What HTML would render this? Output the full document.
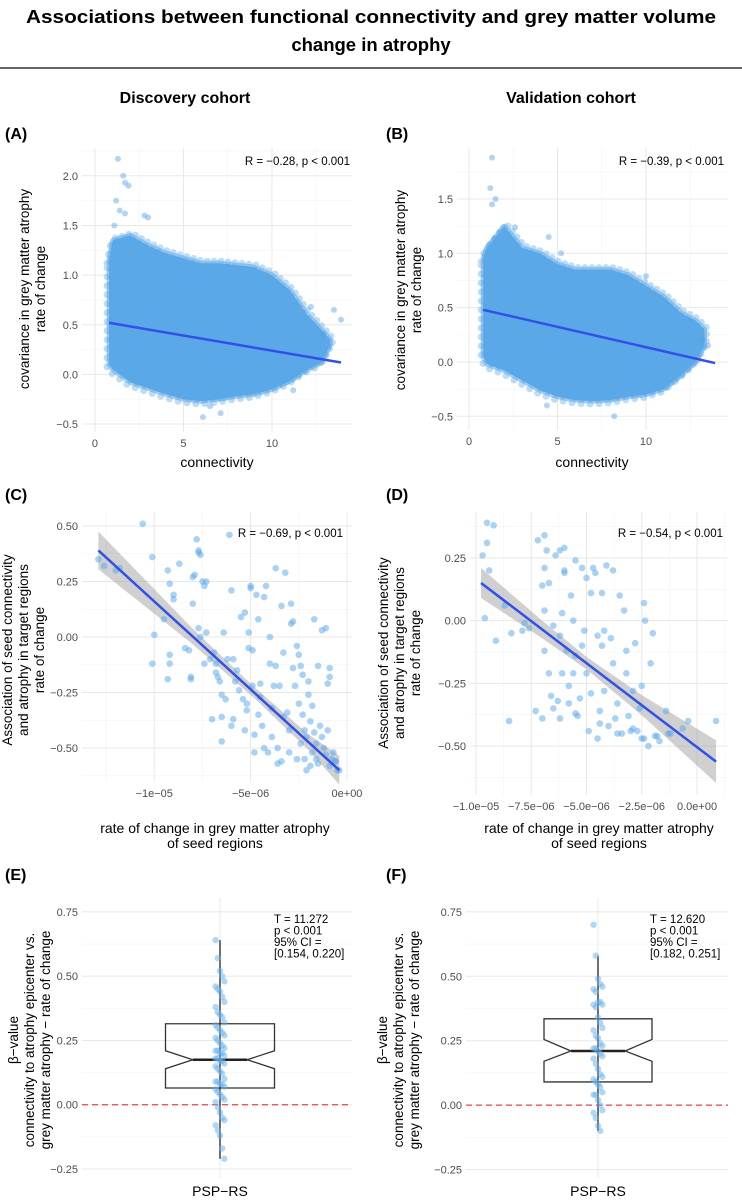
<!DOCTYPE html>
<html><head><meta charset="utf-8"><style>
html,body{margin:0;padding:0;background:#fff;}
svg{display:block;font-family:"Liberation Sans",sans-serif;}
</style></head><body>
<svg id="fig" width="742" height="1200" viewBox="0 0 742 1200" xmlns="http://www.w3.org/2000/svg">
<text x="371" y="23" text-anchor="middle" font-size="18.5" font-weight="bold" textLength="690" lengthAdjust="spacingAndGlyphs">Associations between functional connectivity and grey matter volume</text>
<text x="371" y="51" text-anchor="middle" font-size="18.5" font-weight="bold">change in atrophy</text>
<line x1="0" y1="68" x2="742" y2="68" stroke="#333" stroke-width="1.5"/>
<text x="185" y="103" text-anchor="middle" font-size="16" font-weight="bold">Discovery cohort</text>
<text x="571" y="103" text-anchor="middle" font-size="16" font-weight="bold">Validation cohort</text>
</svg>
<script>
// ---------- DATA ----------
const aBinX = [0.8, 1, 2, 3, 4, 5, 6, 7, 8, 9, 10, 11, 12, 12.8, 13.3];
const aUpper = [1.15, 1.35, 1.4, 1.3, 1.22, 1.17, 1.12, 1.12, 1.1, 1.08, 1.0, 0.85, 0.6, 0.45, 0.35];
const aLower = [0.1, 0.05, -0.08, -0.14, -0.2, -0.25, -0.27, -0.25, -0.22, -0.2, -0.15, -0.07, 0.05, 0.12, 0.3];
const aOutX = [1.3, 1.6, 1.7, 1.9, 1.2, 1.4, 1.7, 2.8, 3.0, 1.1, 6.1, 7.1, 6.5, 13.5, 13.9, 12.9, 11.2, 12.2];
const aOutY = [2.17, 2.0, 1.93, 1.9, 1.75, 1.65, 1.62, 1.6, 1.58, 1.5, -0.43, -0.39, -0.32, 0.65, 0.55, 0.4, -0.16, 0.68];
const aFitX = [0.8, 13.9];
const aFitY = [0.52, 0.12];
const bBinX = [0.8, 1, 2, 3, 4, 5, 6, 7, 8, 9, 10, 11, 12, 12.8, 13.3];
const bUpper = [0.95, 1.05, 1.25, 1.05, 1.0, 0.9, 0.85, 0.85, 0.85, 0.8, 0.7, 0.6, 0.45, 0.38, 0.3];
const bLower = [0.05, -0.02, -0.08, -0.17, -0.26, -0.32, -0.35, -0.36, -0.35, -0.32, -0.3, -0.25, -0.12, 0.0, 0.15];
const bOutX = [1.3, 1.2, 1.5, 1.3, 4.5, 5.2, 8.2, 4.4, 13.5, 13.2, 12.5, 10.0, 2.6];
const bOutY = [1.88, 1.6, 1.5, 1.45, 1.15, 1.0, -0.5, -0.4, 0.15, 0.2, 0.38, 0.79, 1.24];
const bFitX = [0.8, 13.9];
const bFitY = [0.48, -0.01];
const cX = [-12.9,-12.6,-12.0,-11.8,-10.6,-10.1,-10.0,-10.1,-9.5,-9.3,-9.2,-9.0,-9.0,-9.2,-9.2,-9.3,-8.7,-8.4,-8.2,-8.1,-8.1,-8.0,-7.9,-8.0,-7.8,-7.7,-7.7,-7.6,-7.5,-7.3,-7.4,-7.6,-7.7,-7.3,-7.4,-7.1,-7.0,-6.9,-6.8,-6.7,-6.6,-6.5,-6.5,-6.4,-6.5,-6.2,-6.1,-6.0,-6.0,-5.9,-5.8,-5.6,-5.5,-5.3,-5.4,-5.2,-5.2,-5.0,-5.0,-5.1,-5.1,-4.9,-4.9,-4.8,-4.7,-4.6,-4.5,-4.5,-4.3,-4.2,-4.3,-4.0,-4.0,-3.9,-3.8,-3.7,-3.7,-3.6,-3.5,-3.4,-3.3,-3.3,-3.2,-3.1,-3.0,-2.9,-2.9,-2.8,-2.8,-2.7,-2.6,-2.5,-2.5,-2.4,-2.3,-2.3,-2.2,-2.1,-2.2,-2.0,-2.0,-1.9,-1.9,-1.8,-1.7,-1.7,-1.6,-1.6,-1.5,-1.4,-1.3,-1.2,-1.1,-1.1,-1.0,-1.0,-0.9,-0.9,-0.8,-0.7,-0.6,-0.5,-0.4,-1.3,-0.9,-4.4,-3.9,-4.1,-3.4,-2.6,-5.7,-6.3,-4.6,-3.0,-2.4,-1.8,-5.3,-6.8,-3.6,-2.1,-1.5,-0.6,-4.8,-5.9];
const cY = [0.35,0.32,0.30,0.31,0.51,0.36,0.01,-0.12,0.08,0.30,0.24,0.19,0.17,-0.08,-0.12,-0.19,0.33,-0.05,-0.06,-0.18,-0.19,0.27,0.28,0.15,0.44,0.39,0.38,0.37,0.25,0.25,0.23,0.00,0.04,0.02,-0.12,-0.10,-0.37,-0.07,-0.16,-0.18,-0.20,-0.36,-0.47,0.02,-0.26,-0.10,0.46,0.21,-0.40,-0.37,-0.20,-0.24,0.09,0.11,-0.28,-0.30,-0.33,0.23,0.22,0.02,-0.05,-0.06,-0.22,-0.44,0.19,0.08,-0.21,-0.27,0.18,0.23,-0.50,0.00,-0.12,-0.32,-0.22,0.31,-0.13,-0.50,-0.22,0.14,-0.07,-0.36,0.29,-0.34,-0.52,0.15,0.06,0.07,-0.14,-0.22,-0.04,-0.08,-0.30,-0.13,-0.17,-0.35,-0.42,-0.45,-0.55,-0.20,-0.26,-0.38,-0.58,-0.31,0.08,-0.43,-0.48,-0.55,-0.13,-0.40,-0.45,-0.50,0.04,-0.53,-0.21,-0.42,-0.14,-0.58,-0.55,-0.52,-0.56,-0.60,-0.60,0.03,-0.18,-0.40,-0.45,-0.52,-0.56,-0.55,-0.15,-0.28,-0.35,-0.42,-0.48,-0.52,-0.42,-0.12,-0.57,-0.60,-0.57,-0.56,-0.52,-0.10];
const cFitX = [-12.9, -0.4];
const cFitY = [0.39, -0.60];
const cBandX = [-12.9, -8.0, -4.8, -2.0, -0.4];
const cBandHalf = [0.085, 0.035, 0.025, 0.035, 0.065];
const dX = [-9.7,-9.5,-9.5,-9.2,-9.4,-9.6,-8.7,-9.1,-8.4,-7.9,-7.8,-7.6,-8.5,-7.2,-6.9,-6.9,-7.0,-6.8,-6.7,-6.9,-6.9,-6.7,-6.4,-6.2,-6.0,-6.0,-6.0,-6.5,-6.2,-6.1,-6.3,-6.2,-6.1,-5.7,-5.9,-5.8,-5.5,-5.6,-5.5,-5.6,-5.4,-5.2,-5.0,-4.8,-5.1,-5.0,-4.9,-4.7,-4.6,-4.3,-4.5,-4.3,-4.2,-4.4,-4.1,-4.2,-3.9,-3.8,-3.7,-3.6,-3.5,-3.3,-3.2,-3.2,-3.1,-2.8,-2.9,-2.7,-2.5,-2.4,-2.35,-2.1,-2.0,-1.8,-3.8,-2.5,-1.2,-0.4,-0.65,0.86,-1.4,-4.5,-3.4,-2.9,-2.4,-2.2,-1.7,-1.3,-5.3,-5.8,-6.6,-7.3,-4.0,-3.0,-4.8,-5.5,-3.6,-2.6,-1.9,-6.5,-7.0,-5.2,-4.4];
const dY = [0.26,0.31,0.39,0.38,0.20,0.01,0.06,-0.08,-0.05,-0.04,-0.01,-0.03,-0.40,0.32,0.34,0.21,0.14,0.28,0.15,0.04,-0.12,-0.21,0.26,0.28,0.29,0.20,0.19,-0.02,-0.06,-0.21,-0.32,-0.39,0.03,0.10,-0.12,-0.33,0.24,0.00,-0.14,-0.21,-0.38,0.21,0.17,0.11,-0.04,-0.21,-0.44,0.21,0.19,0.11,-0.06,-0.10,-0.28,-0.36,0.22,-0.04,-0.07,-0.17,-0.39,-0.45,0.10,0.04,-0.12,-0.21,-0.38,-0.09,-0.28,-0.44,-0.47,0.07,0.00,-0.17,-0.05,-0.46,0.20,-0.26,-0.45,-0.40,-0.43,-0.40,-0.36,-0.47,-0.45,-0.43,-0.47,-0.50,-0.48,-0.45,-0.31,-0.26,-0.30,-0.36,-0.42,-0.44,-0.29,-0.37,-0.33,-0.35,-0.46,-0.35,-0.39,-0.10,-0.41];
const dFitX = [-9.77, 0.86];
const dFitY = [0.15, -0.562];
const dBandX = [-9.77, -7.0, -5.0, -2.5, 0.86];
const dBandHalf = [0.06, 0.035, 0.025, 0.04, 0.085];
const eVals = [0.64,0.57,0.52,0.50,0.48,0.46,0.45,0.44,0.42,0.40,0.38,0.36,0.35,0.34,0.32,0.31,0.30,0.29,0.28,0.27,0.26,0.25,0.24,0.23,0.22,0.21,0.21,0.20,0.20,0.19,0.18,0.18,0.17,0.17,0.16,0.15,0.14,0.13,0.12,0.10,0.09,0.09,0.08,0.08,0.07,0.06,0.05,0.04,0.03,0.02,0.01,-0.01,-0.03,-0.05,-0.06,-0.08,-0.10,-0.12,-0.17,-0.21];
const eBox = [-0.21, 0.065, 0.175, 0.315, 0.64];
const eNotch = [0.14, 0.21];
const fVals = [0.70,0.58,0.49,0.47,0.46,0.45,0.44,0.40,0.40,0.39,0.39,0.38,0.34,0.32,0.30,0.29,0.27,0.26,0.24,0.23,0.22,0.22,0.21,0.20,0.19,0.18,0.16,0.14,0.12,0.11,0.10,0.09,0.08,0.07,0.05,0.04,0.04,0.02,0.00,-0.02,-0.03,-0.05,-0.08,-0.10];
const fBox = [-0.10, 0.09, 0.21, 0.335, 0.58];
const fNotch = [0.17, 0.255];
const ticksAX = [0, 5, 10], ticksAY = [-0.5, 0, 0.5, 1.0, 1.5, 2.0];
const ticksBX = [0, 5, 10], ticksBY = [-0.5, 0, 0.5, 1.0, 1.5];
const ticksCX = [-10, -5, 0], labelsCX = ["\u22121e\u221205", "\u22125e\u221206", "0e+00"];
const ticksCY = [-0.5, -0.25, 0, 0.25, 0.5], labelsCY = ["\u22120.50", "\u22120.25", "0.00", "0.25", "0.50"];
const ticksDX = [-10, -7.5, -5, -2.5, 0], labelsDX = ["\u22121.0e\u221205", "\u22127.5e\u221206", "\u22125.0e\u221206", "\u22122.5e\u221206", "0.0e+00"];
const ticksDY = [-0.5, -0.25, 0, 0.25], labelsDY = ["\u22120.50", "\u22120.25", "0.00", "0.25"];
const ticksEY = [-0.25, 0, 0.25, 0.5, 0.75], labelsEY = ["\u22120.25", "0.00", "0.25", "0.50", "0.75"];

// ---------- DRAW ----------
const NS = "http://www.w3.org/2000/svg";
const svg = document.getElementById("fig");
function mk(tag, attrs, parent) {
  const el = document.createElementNS(NS, tag);
  for (const k in attrs) el.setAttribute(k, attrs[k]);
  (parent || svg).appendChild(el);
  return el;
}
function fmt1(v) { return (v < 0 ? "\u2212" : "") + Math.abs(v).toFixed(1); }
function fmt0(v) { return String(v); }

function panel(p) {
  const g = mk("g", {});
  
  
  const sx = v => p.L + (v - p.xmin) / (p.xmax - p.xmin) * (p.R - p.L);
  const sy = v => p.B - (v - p.ymin) / (p.ymax - p.ymin) * (p.B - p.T);
  const mg = mk("g", {stroke: "#f3f3f3", "stroke-width": 0.6}, g);
  
  
  const yt = p.yTicks, st = yt[1] - yt[0];
  for (let v = yt[0] - st / 2; v <= p.ymax; v += st) if (v >= p.ymin) mk("line", {x1: p.L, x2: p.R, y1: sy(v), y2: sy(v)}, mg);
  if (p.xTicks) { const xs = p.xTicks[1] - p.xTicks[0];
    for (let v = p.xTicks[0] - xs / 2; v <= p.xmax; v += xs) if (v >= p.xmin) mk("line", {y1: p.T, y2: p.B, x1: sx(v), x2: sx(v)}, mg); }
  const gg = mk("g", {stroke: "#e8e8e8", "stroke-width": 1}, g);
  
  
  yt.forEach((v, i) => {
    mk("line", {x1: p.L, x2: p.R, y1: sy(v), y2: sy(v)}, gg);
    const t = mk("text", {x: p.L - 4, y: sy(v) + 4, "text-anchor": "end", "font-size": 11, fill: "#4d4d4d"}, g);
    
    
    t.textContent = p.yLabels[i];
  });
  if (p.xTicks) p.xTicks.forEach((v, i) => {
    mk("line", {y1: p.T, y2: p.B, x1: sx(v), x2: sx(v)}, gg);
    const t = mk("text", {x: sx(v), y: p.B + 15, "text-anchor": "middle", "font-size": 11, fill: "#4d4d4d"}, g);
    
    
    t.textContent = p.xLabels[i];
  });
  p.draw(g, sx, sy);
  const tag = mk("text", {x: p.tagX, y: p.tagY, "font-size": 16, "font-weight": "bold"}, g);
  
  
  tag.textContent = p.tag;
  p.yTitle.forEach((s, i) => {
    const x = p.yTitleX + i * 16, y = p.yTitleY;
    const t = mk("text", {x: x, y: y, "text-anchor": "middle", "font-size": 13.5, transform: "rotate(-90 " + x + " " + y + ")"}, g);
    
    
    t.textContent = s;
  });
  p.xTitle.forEach((s, i) => {
    const t = mk("text", {x: p.xTitleX, y: p.xTitleY + i * 15, "text-anchor": "middle", "font-size": 14}, g);
    
    
    t.textContent = s;
  });
  p.annot.forEach((s, i) => {
    const t = mk("text", {x: p.annX, y: p.annY + i * 11.5, "text-anchor": p.annAnchor, "font-size": 11.5}, g);
    
    
    t.textContent = s;
  });
}

function cloud(binX, up, lo, ox, oy, fx, fy) {
  return function (g, sx, sy) {
    let d = "M" + binX.map((x, i) => sx(x) + "," + sy(up[i])).join(" L");
    for (let i = binX.length - 1; i >= 0; i--) d += " L" + sx(binX[i]) + "," + sy(lo[i]);
    d += "Z";
    const fz = mk("path", {d: d, fill: "none", stroke: "rgba(91,168,232,0.4)", "stroke-width": 7, "stroke-linecap": "round", "stroke-dasharray": "0,7", "stroke-linejoin": "round", transform: "translate(2,-2)"}, g);
    
    
    const c = mk("path", {d: d, fill: "#5ba8e8", stroke: "rgba(91,168,232,0.55)", "stroke-width": 5, "stroke-linejoin": "round"}, g);
    
    
    const fz2 = mk("path", {d: d, fill: "none", stroke: "rgba(91,168,232,0.4)", "stroke-width": 7, "stroke-linecap": "round", "stroke-dasharray": "0,9", "stroke-linejoin": "round", transform: "translate(-2,3)"}, g);
    
    
    ox.forEach((x, i) => {
      const pt = mk("circle", {cx: sx(x), cy: sy(oy[i]), r: 3, fill: "rgba(86,160,233,0.45)"}, g);
      
      
    });
    const ln = mk("line", {x1: sx(fx[0]), y1: sy(fy[0]), x2: sx(fx[1]), y2: sy(fy[1]), stroke: "#3050e6", "stroke-width": 2.5}, g);
    
    
  };
}
function scatter(xs, ys, fx, fy, bx, bh) {
  return function (g, sx, sy) {
    const slope = (fy[1] - fy[0]) / (fx[1] - fx[0]);
    const fit = x => fy[0] + slope * (x - fx[0]);
    let d = "M" + bx.map((x, i) => sx(x) + "," + sy(fit(x) + bh[i])).join(" L");
    for (let i = bx.length - 1; i >= 0; i--) d += " L" + sx(bx[i]) + "," + sy(fit(bx[i]) - bh[i]);
    d += "Z";
    const band = mk("path", {d: d, fill: "rgba(150,150,150,0.45)"}, g);
    
    
    xs.forEach((x, i) => {
      const pt = mk("circle", {cx: sx(x), cy: sy(ys[i]), r: 3.3, fill: "rgba(86,165,233,0.5)"}, g);
      
      
    });
    const ln = mk("line", {x1: sx(fx[0]), y1: sy(fy[0]), x2: sx(fx[1]), y2: sy(fy[1]), stroke: "#3050e6", "stroke-width": 2.5}, g);
    
    
  };
}
function boxplot(vals, box, notch, cx, hw) {
  return function (g, sx, sy) {
    const zero = mk("line", {x1: sx.L, x2: sx.R, y1: sy(0), y2: sy(0), stroke: "#e0474c", "stroke-width": 1.3, "stroke-dasharray": "6,4"}, g);
    
    
    const wk = mk("line", {x1: cx, x2: cx, y1: sy(box[0]), y2: sy(box[4]), stroke: "#222", "stroke-width": 1.3}, g);
    
    
    const nw = hw * 0.5;
    const d = "M" + (cx - hw) + "," + sy(box[3]) + " L" + (cx + hw) + "," + sy(box[3]) + " L" + (cx + hw) + "," + sy(notch[1]) +
      " L" + (cx + nw) + "," + sy(box[2]) + " L" + (cx + hw) + "," + sy(notch[0]) + " L" + (cx + hw) + "," + sy(box[1]) +
      " L" + (cx - hw) + "," + sy(box[1]) + " L" + (cx - hw) + "," + sy(notch[0]) + " L" + (cx - nw) + "," + sy(box[2]) +
      " L" + (cx - hw) + "," + sy(notch[1]) + "Z";
    const b = mk("path", {d: d, fill: "none", stroke: "#333", "stroke-width": 1.3}, g);
    
    
    const md = mk("line", {x1: cx - nw, x2: cx + nw, y1: sy(box[2]), y2: sy(box[2]), stroke: "#222", "stroke-width": 2.5}, g);
    
    
    vals.forEach((v, i) => {
      const off = ((i % 5) - 2) * 2.2;
      const pt = mk("circle", {cx: cx + off, cy: sy(v), r: 3.2, fill: "rgba(100,175,235,0.5)"}, g);
      
      
    });
  };
}

panel({name: "panel-a", tag: "(A)", tagX: 5, tagY: 139, L: 82, R: 352, T: 148, B: 432, xmin: -0.73, xmax: 14.52, ymin: -0.58, ymax: 2.28,
  xTicks: ticksAX, xLabels: ticksAX.map(fmt0), yTicks: ticksAY, yLabels: ticksAY.map(fmt1),
  yTitleX: 29, yTitleY: 289, yTitle: ["covariance in grey matter atrophy", "rate of change"],
  xTitleX: 217, xTitleY: 467, xTitle: ["connectivity"], annX: 350, annY: 165, annAnchor: "end", annot: ["R = \u22120.28, p < 0.001"],
  draw: cloud(aBinX, aUpper, aLower, aOutX, aOutY, aFitX, aFitY)});
panel({name: "panel-b", tag: "(B)", tagX: 386, tagY: 139, L: 457, R: 728, T: 148, B: 430, xmin: -0.68, xmax: 14.63, ymin: -0.626, ymax: 1.969,
  xTicks: ticksBX, xLabels: ticksBX.map(fmt0), yTicks: ticksBY, yLabels: ticksBY.map(fmt1),
  yTitleX: 405, yTitleY: 290, yTitle: ["covariance in grey matter atrophy", "rate of change"],
  xTitleX: 592, xTitleY: 467, xTitle: ["connectivity"], annX: 724, annY: 165, annAnchor: "end", annot: ["R = \u22120.39, p < 0.001"],
  draw: cloud(bBinX, bUpper, bLower, bOutX, bOutY, bFitX, bFitY)});
panel({name: "panel-c", tag: "(C)", tagX: 5, tagY: 500, L: 82, R: 352, T: 512, B: 782, xmin: -13.75, xmax: 0.26, ymin: -0.653, ymax: 0.563,
  xTicks: ticksCX, xLabels: labelsCX, yTicks: ticksCY, yLabels: labelsCY,
  yTitleX: 12, yTitleY: 650, yTitle: ["Association of seed connectivity", "and atrophy in target regions", "rate of change"],
  xTitleX: 215, xTitleY: 833, xTitle: ["rate of change in grey matter atrophy", "of seed regions"], annX: 343, annY: 537, annAnchor: "end", annot: ["R = \u22120.69, p < 0.001"],
  draw: scatter(cX, cY, cFitX, cFitY, cBandX, cBandHalf)});
panel({name: "panel-d", tag: "(D)", tagX: 386, tagY: 500, L: 470, R: 728, T: 512, B: 795, xmin: -10.27, xmax: 1.40, ymin: -0.695, ymax: 0.433,
  xTicks: ticksDX, xLabels: labelsDX, yTicks: ticksDY, yLabels: labelsDY,
  yTitleX: 388, yTitleY: 653, yTitle: ["Association of seed connectivity", "and atrophy in target regions", "rate of change"],
  xTitleX: 599, xTitleY: 833, xTitle: ["rate of change in grey matter atrophy", "of seed regions"], annX: 723, annY: 537, annAnchor: "end", annot: ["R = \u22120.54, p < 0.001"],
  draw: scatter(dX, dY, dFitX, dFitY, dBandX, dBandHalf)});

function boxPanel(o) {
  const sxObj = {L: o.L, R: o.R};
  panel({name: o.name, tag: o.tag, tagX: o.tagX, tagY: 880, L: o.L, R: o.R, T: 898, B: 1178, xmin: 0, xmax: 1, ymin: o.ymin, ymax: o.ymax,
    xTicks: null, yTicks: ticksEY, yLabels: labelsEY,
    yTitleX: o.ytx, yTitleY: 1040, yTitle: ["\u03b2\u2212value", "connectivity to atrophy epicenter vs.", "grey matter atrophy \u2212 rate of change"],
    xTitleX: o.cx, xTitleY: 1196, xTitle: ["PSP\u2212RS"], annX: o.annX, annY: 923, annAnchor: "start", annot: o.annot,
    draw: function (g, sx, sy) {
      const vg = mk("line", {x1: o.cx, x2: o.cx, y1: 898, y2: 1178, stroke: "#e8e8e8"}, g);
      
      
      boxplot(o.vals, o.box, o.notch, o.cx, o.hw)(g, sxObj, sy);
    }});
}
boxPanel({name: "panel-e", tag: "(E)", tagX: 5, L: 82, R: 352, ymin: -0.285, ymax: 0.804, ytx: 18, cx: 220, hw: 54.5,
  vals: eVals, box: eBox, notch: eNotch, annX: 274, annot: ["T =  11.272", "p < 0.001", "95% CI =", "[0.154, 0.220]"]});
boxPanel({name: "panel-f", tag: "(F)", tagX: 386, L: 466, R: 728, ymin: -0.283, ymax: 0.804, ytx: 387, cx: 598, hw: 54,
  vals: fVals, box: fBox, notch: fNotch, annX: 650, annot: ["T =  12.620", "p < 0.001", "95% CI =", "[0.182, 0.251]"]});
</script>
</body></html>
